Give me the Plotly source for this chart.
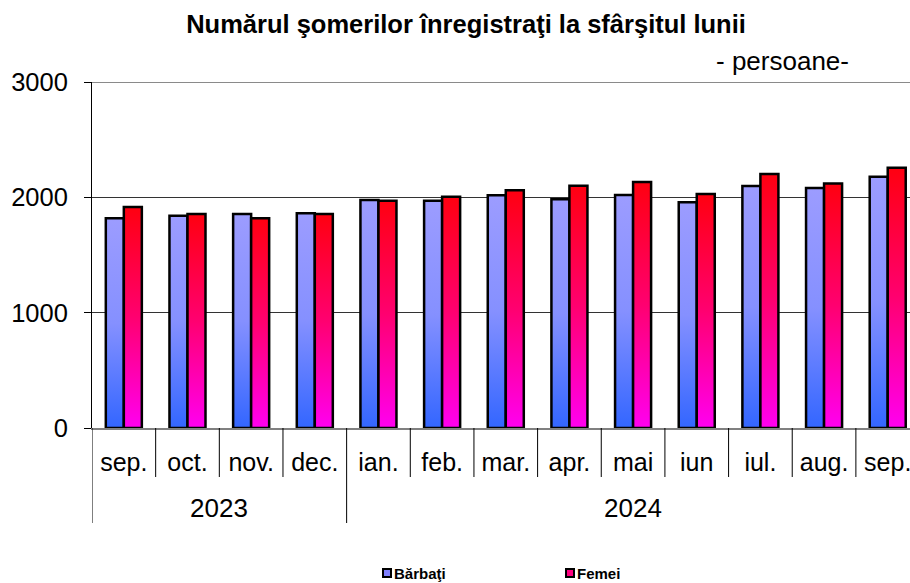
import plotly.graph_objects as go

months = ["sep.", "oct.", "nov.", "dec.", "ian.", "feb.", "mar.", "apr.", "mai", "iun", "iul.", "aug.", "sep."]
years = ["2023", "2024"]
year_spans = [(0, 3), (4, 12)]
barbati = [1818, 1841, 1855, 1861, 1977, 1970, 2017, 1983, 2020, 1957, 2098, 2080, 2178]
femei = [1916, 1855, 1818, 1855, 1970, 2005, 2061, 2100, 2133, 2028, 2202, 2121, 2256]

FONT = "Liberation Sans, Arial, sans-serif"
BW = 0.283  # bar width in category units

W, H = 910, 583
ML, MR, MT, MB = 92, 0, 82, 155
PW, PH = W - ML - MR, H - MT - MB


def px_x(px):
    return (px - ML) / PW


def px_y(py):
    return (H - MB - py) / PH


series = [
    ("Bărbaţi", barbati, -1, [[0, "#3366FF"], [0.5, "#8590FF"], [1, "#9C9CFF"]], "#8080FF"),
    ("Femei", femei, 0, [[0, "#FF00F0"], [0.5, "#FF0070"], [1, "#FF0010"]], "#FF0080"),
]

fig = go.Figure()
for name, vals, side, cs, legcol in series:
    for i, v in enumerate(vals):
        l = i + side * BW
        r = l + BW
        fig.add_trace(go.Scatter(
            x=[l, l, r, r, l], y=[0, v, v, 0, 0], mode="lines", fill="toself",
            fillgradient=dict(type="vertical", colorscale=cs, start=0, stop=v),
            line=dict(color="black", width=2.5), showlegend=False,
            hoverinfo="text", text=f"{name} {months[i]}: {v}", hoveron="fills",
        ))

shapes = []
n = len(months)
for k in range(1, n + 1):
    xb = k - 0.5
    low = px_y(523) if k == year_spans[0][1] + 1 else px_y(477)
    shapes.append(dict(type="line", xref="x", yref="paper", x0=xb, x1=xb, y0=0, y1=low,
                       line=dict(color="black", width=1)))
shapes.append(dict(type="line", xref="x", yref="paper", x0=-0.5, x1=-0.5, y0=0, y1=px_y(523),
                   line=dict(color="black", width=1)))
shapes.append(dict(type="line", xref="paper", yref="y", x0=0, x1=1, y0=3000, y1=3000,
                   line=dict(color="#8a8a8a", width=2)))

annotations = []
for yname, (a, b) in zip(years, year_spans):
    annotations.append(dict(text=yname, x=(a + b) / 2, xref="x", y=px_y(508), yref="paper",
                            showarrow=False, font=dict(size=26, color="black", family=FONT),
                            xanchor="center", yanchor="middle"))
annotations.append(dict(text="- persoane-", x=px_x(782), xref="paper", y=px_y(61), yref="paper",
                        showarrow=False, font=dict(size=26, color="black", family=FONT),
                        xanchor="center", yanchor="middle"))

# legend drawn as text + swatches
leg_items = [("Bărbaţi", "#8080FF", 383), ("Femei", "#FF0080", 566)]
for name, col, sx in leg_items:
    shapes.append(dict(type="rect", xref="paper", yref="paper",
                       x0=px_x(sx), x1=px_x(sx + 8), y0=px_y(577), y1=px_y(569),
                       fillcolor=col, line=dict(color="black", width=2)))
    annotations.append(dict(text=f"<b>{name}</b>", x=px_x(sx + 9), xref="paper", y=px_y(573),
                            yref="paper", showarrow=False, xanchor="left", yanchor="middle",
                            font=dict(size=15, color="black", family=FONT)))

fig.update_layout(
    width=W, height=H,
    margin=dict(l=ML, r=MR, t=MT, b=MB),
    paper_bgcolor="white", plot_bgcolor="white",
    font=dict(family=FONT, color="black"),
    title=dict(text="<b>Numărul şomerilor înregistraţi la sfârşitul lunii</b>",
               x=466 / W, xanchor="center", y=1 - 24 / H, yanchor="middle",
               font=dict(size=25.5, family=FONT, color="black")),
    xaxis=dict(range=[-0.5, 12.35], tickvals=list(range(n)), ticktext=months,
               showgrid=False, zeroline=False, showline=True, linecolor="#808080", linewidth=2,
               ticks="", tickfont=dict(size=25, family=FONT, color="black"),
               ticklabelstandoff=11, ticklabeloverflow="allow", automargin=False,
               fixedrange=True),
    yaxis=dict(range=[0, 3000], tickvals=[0, 1000, 2000, 3000], showgrid=True,
               gridcolor="#333333", gridwidth=1, zeroline=False, showline=True,
               linecolor="black", linewidth=1, ticks="outside", ticklen=7, tickcolor="black",
               tickfont=dict(size=25.5, family=FONT, color="black"), ticklabelstandoff=11,
               automargin=False, fixedrange=True),
    shapes=shapes,
    annotations=annotations,
    showlegend=False,
)

fig.write_html("out.html", config={"displayModeBar": False},
               post_script="document.body.style.margin='0';document.body.style.overflow='hidden';")
